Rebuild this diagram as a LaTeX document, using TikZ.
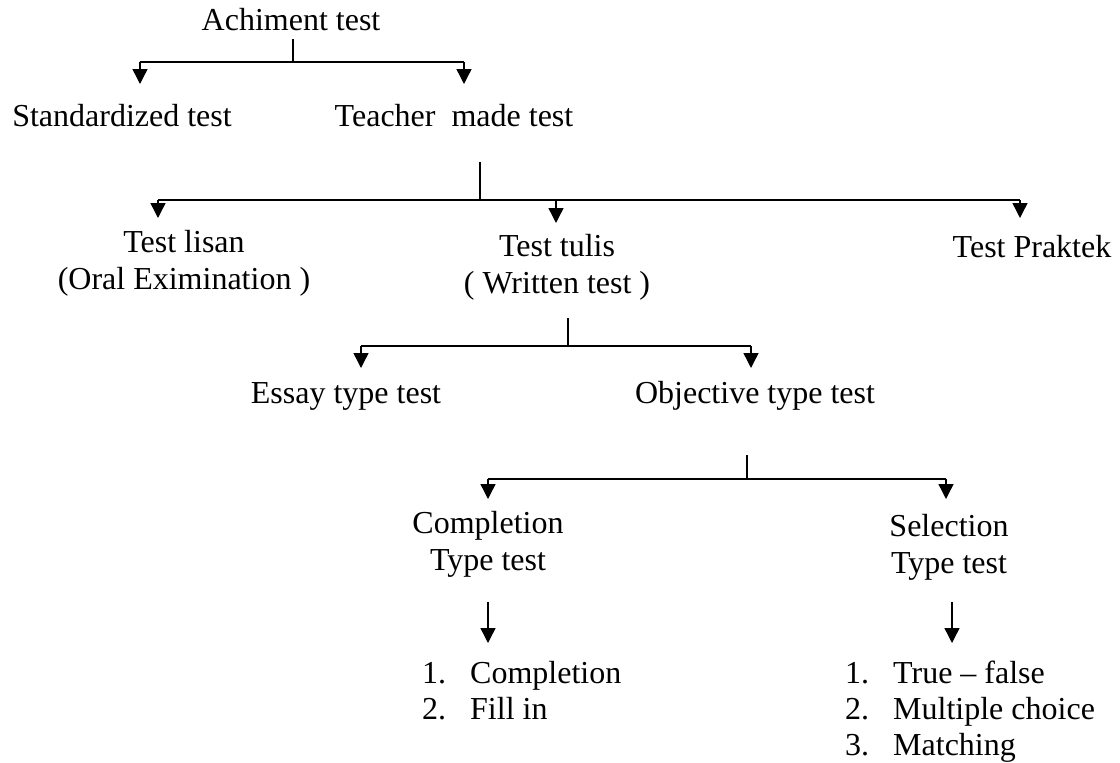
\documentclass[tikz,border=0pt]{standalone}
\usepackage{fontspec}
\setmainfont{Liberation Serif}
\usetikzlibrary{arrows.meta}
\begin{document}
\begin{tikzpicture}[x=1pt,y=-1pt,
  lbl/.style={font=\fontsize{32}{37}\selectfont, inner sep=0pt, anchor=base, align=center},
  lst/.style={font=\fontsize{32}{36}\selectfont, inner sep=0pt, anchor=base west, align=left},
  ln/.style={line width=1.4pt},
  arr/.style={line width=1.4pt, -{Triangle[width=15pt,length=15pt]}}]
\useasboundingbox (0,0) rectangle (1120,763);
% labels (multi-line nodes are anchored at the baseline of their last line)
\node[lbl] (ach) at (291,30) {Achiment test};
\node[lbl] (std) at (122,126) {Standardized test};
\node[lbl] (tmt) at (454,126) {Teacher\ \ made test};
\node[lbl] (lis) at (184,289) {Test lisan\\(Oral Eximination )};
\node[lbl] (tul) at (557,293) {Test tulis\\( Written test )};
\node[lbl] (prak) at (1032,257) {Test Praktek};
\node[lbl] (essay) at (346,403) {Essay type test};
\node[lbl] (obj) at (755,403) {Objective type test};
\node[lbl] (comp) at (488,570) {Completion\\Type test};
\node[lbl] (sel) at (949,573) {Selection\\Type test};
\node[lst] (clist) at (422,719) {\makebox[48pt][l]{1.}Completion\\\makebox[48pt][l]{2.}Fill in};
\node[lst] (slist) at (845,755) {\makebox[48pt][l]{1.}True -- false\\\makebox[48pt][l]{2.}Multiple choice\\\makebox[48pt][l]{3.}Matching};
% junction coordinates
\coordinate (s1t) at (293,39);  \coordinate (s1b) at (293,62);
\coordinate (b1l) at (140,62);  \coordinate (b1r) at (464,62);
\coordinate (s2t) at (480,162); \coordinate (s2b) at (480,200);
\coordinate (b2l) at (158,200); \coordinate (b2m) at (556,200); \coordinate (b2r) at (1020,200);
\coordinate (s3t) at (568,318); \coordinate (s3b) at (568,346);
\coordinate (b3l) at (361,346); \coordinate (b3r) at (751,346);
\coordinate (s4t) at (747,455); \coordinate (s4b) at (747,479);
\coordinate (b4l) at (488,479); \coordinate (b4r) at (946,479);
\coordinate (c5t) at (488,602); \coordinate (c5b) at (488,643);
\coordinate (d5t) at (952,602); \coordinate (d5b) at (952,643);
% level 1
\draw[ln] (s1t) -- (s1b);
\draw[ln] (b1l) -- (b1r);
\draw[arr] (b1l) -- ++(0,22);
\draw[arr] (b1r) -- ++(0,22);
% level 2
\draw[ln] (s2t) -- (s2b);
\draw[ln] (b2l) -- (b2r);
\draw[arr] (b2l) -- ++(0,18);
\draw[arr] (b2m) -- ++(0,23);
\draw[arr] (b2r) -- ++(0,18);
% level 3
\draw[ln] (s3t) -- (s3b);
\draw[ln] (b3l) -- (b3r);
\draw[arr] (b3l) -- ++(0,22);
\draw[arr] (b3r) -- ++(0,22);
% level 4
\draw[ln] (s4t) -- (s4b);
\draw[ln] (b4l) -- (b4r);
\draw[arr] (b4l) -- ++(0,20);
\draw[arr] (b4r) -- ++(0,20);
% level 5
\draw[arr] (c5t) -- (c5b);
\draw[arr] (d5t) -- (d5b);
\end{tikzpicture}
\end{document}
